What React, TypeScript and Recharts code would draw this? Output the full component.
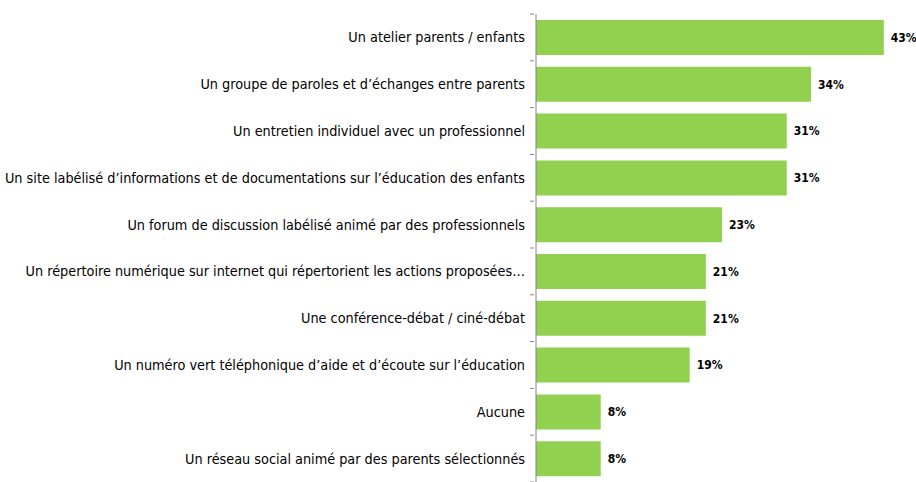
import React from 'react';
import { BarChart, Bar, XAxis, YAxis, LabelList } from 'recharts';

// Categories and shares (%)
const categories = [
  'Un atelier parents / enfants',
  'Un groupe de paroles et d\u2019échanges entre parents',
  'Un entretien individuel avec un professionnel',
  'Un site labélisé d\u2019informations et de documentations sur l\u2019éducation des enfants',
  'Un forum de discussion labélisé animé par des professionnels',
  'Un répertoire numérique sur internet qui répertorient les actions proposées\u2026',
  'Une conférence-débat / ciné-débat',
  'Un numéro vert téléphonique d\u2019aide et d\u2019écoute sur l\u2019éducation',
  'Aucune',
  'Un réseau social animé par des parents sélectionnés',
];
const values = [43, 34, 31, 31, 23, 21, 21, 19, 8, 8];

const data = categories.map((name, i) => ({ name, value: values[i] }));

const FONT = '"DejaVu Sans Condensed", "DejaVu Sans", sans-serif';
const BAND = (482 - 14) / categories.length;

const CategoryTick = (props: any) => {
  const { x, y, payload, index } = props;
  const last = index === categories.length - 1;
  return (
    <g>
      <line x1={x - 4} x2={x} y1={y - BAND / 2} y2={y - BAND / 2} stroke="#868686" />
      {last && <line x1={x - 4} x2={x} y1={y + BAND / 2} y2={y + BAND / 2} stroke="#868686" />}
      <text
        x={x - 9}
        y={y}
        dy="0.35em"
        textAnchor="end"
        fontSize={14.3}
        fill="#000"
        style={{ fontFamily: FONT, fontStretch: 'condensed' }}
      >
        {payload.value}
      </text>
    </g>
  );
};

export default function App() {
  return (
    <div style={{ position: 'absolute', left: 0, top: 0, background: '#fff' }}>
      <BarChart
        width={916}
        height={482}
        data={data}
        layout="vertical"
        margin={{ top: 14, right: 16, bottom: 0, left: 0 }}
      >
        <XAxis type="number" domain={[0, 45]} hide />
        <YAxis
          type="category"
          dataKey="name"
          width={536}
          tickLine={false}
          tickSize={0}
          axisLine={{ stroke: '#868686' }}
          tick={<CategoryTick />}
          interval={0}
        />
        <Bar dataKey="value" fill="#92D050" barSize={35} isAnimationActive={false}>
          <LabelList
            dataKey="value"
            position="right"
            offset={7}
            formatter={(v: any) => `${v}%`}
            style={{ fontSize: 12, fontWeight: 'bold', fill: '#000', fontFamily: FONT, fontStretch: 'condensed' }}
          />
        </Bar>
      </BarChart>
    </div>
  );
}
